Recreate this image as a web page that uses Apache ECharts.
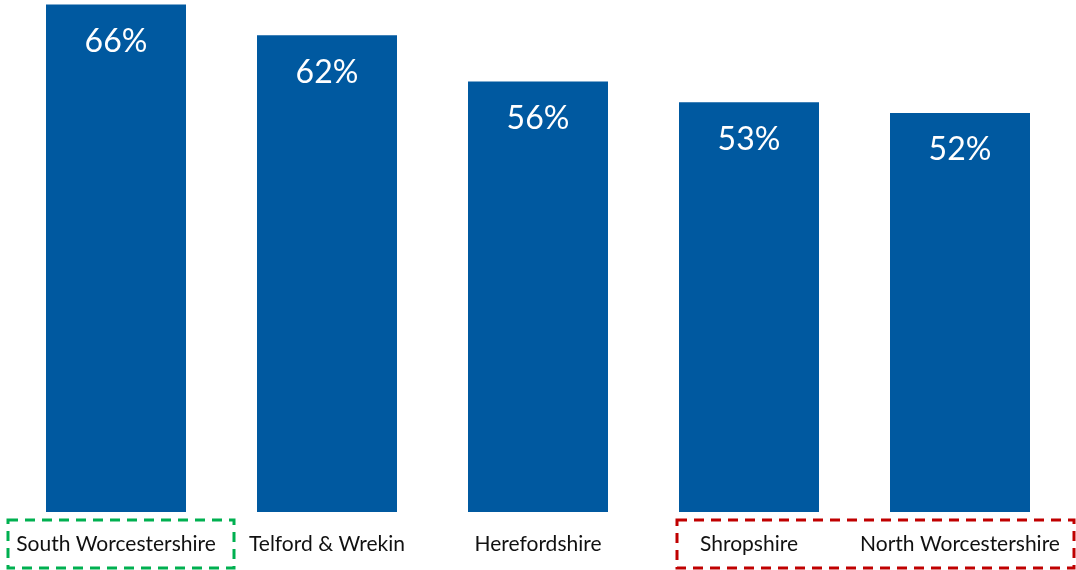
<!DOCTYPE html>
<html>
<head>
<meta charset="utf-8">
<script src="https://cdn.jsdelivr.net/npm/echarts@6/dist/echarts.min.js"></script>
<style>
  html, body { margin: 0; padding: 0; background: #fff; }
  #chart { width: 1076px; height: 570px; }
</style>
</head>
<body>
<div id="chart"></div>
<script>
const categories = ['South Worcestershire', 'Telford & Wrekin', 'Herefordshire', 'Shropshire', 'North Worcestershire']
const values = [66, 62, 56, 53.3, 51.9]

const chart = echarts.init(document.getElementById('chart'), null, { renderer: 'canvas' })

const option = {
  animation: false,
  grid: { left: 10.5, right: 10.5, top: 0, bottom: 58 },
  xAxis: {
    type: 'category',
    data: categories,
    axisLine: { show: false },
    axisTick: { show: false },
    axisLabel: {
      interval: 0,
      margin: 22,
      color: '#111',
      fontSize: 21,
      fontFamily: 'Lato'
    }
  },
  yAxis: {
    type: 'value',
    min: 0,
    max: 66.6,
    show: false,
    splitLine: { show: false }
  },
  series: [
    {
      type: 'bar',
      data: values,
      barWidth: 140,
      itemStyle: { color: '#0059A0' },
      label: {
        show: true,
        position: 'insideTop',
        distance: 21,
        formatter: p => Math.round(p.value) + '%',
        color: '#fff',
        fontSize: 32,
        fontFamily: 'Lato'
      }
    }
  ],
  graphic: [
    {
      type: 'rect',
      shape: { x: 8, y: 520, width: 226, height: 48 },
      style: { fill: 'none', stroke: '#00B050', lineWidth: 3, lineDash: [10, 7] }
    },
    {
      type: 'rect',
      shape: { x: 677, y: 520, width: 397, height: 48 },
      style: { fill: 'none', stroke: '#C00000', lineWidth: 3, lineDash: [10, 7] }
    }
  ]
}

chart.setOption(option)
</script>
</body>
</html>
